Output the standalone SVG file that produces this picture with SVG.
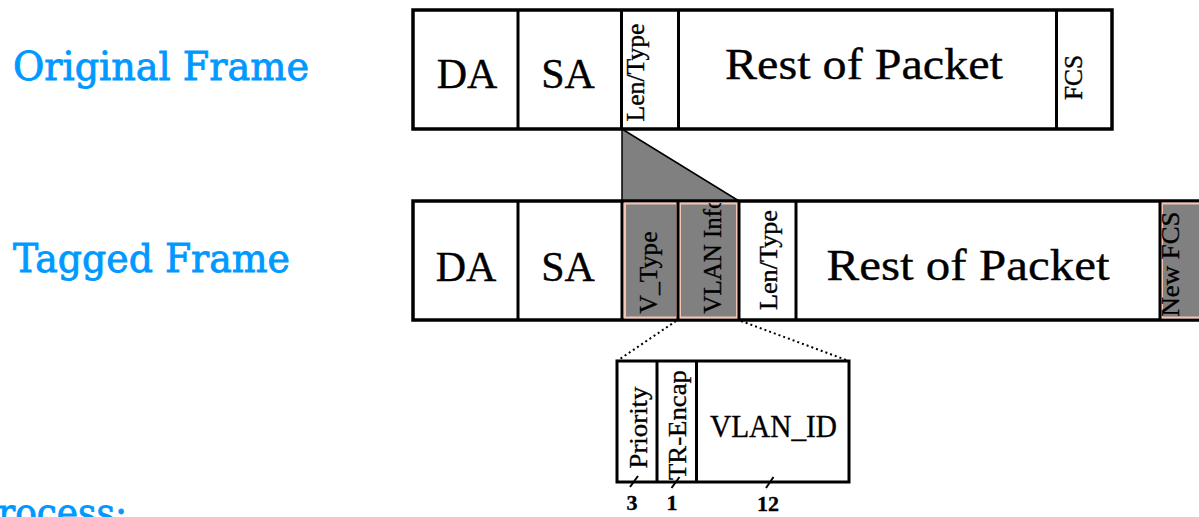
<svg xmlns="http://www.w3.org/2000/svg" width="1199" height="517" viewBox="0 0 1199 517">
  <style>
    .label { font-family: "DejaVu Serif", "Liberation Serif", serif; fill: #0099ff; stroke: #0099ff; stroke-width: 0.9; font-size: 40px; }
    .txt { font-family: "Liberation Serif", "Times New Roman", serif; fill: #000; stroke: #000; stroke-width: 0.35; }
    .big { font-size: 42px; }
    .vert { font-size: 26px; }
    .num { font-size: 22px; font-weight: bold; }
    .box { fill: #fff; stroke: #000; stroke-width: 3.5; }
    .div { stroke: #000; stroke-width: 3; }
    .tag { fill: #808080; stroke: #f5c4b3; stroke-width: 2; }
    .dot { stroke: #000; stroke-width: 2; stroke-dasharray: 2 3; fill: none; }
    .tick { stroke: #000; stroke-width: 2; }
  </style>
  <defs>
    <clipPath id="clipVlan"><rect x="680" y="203" width="57" height="116"/></clipPath>
  </defs>

  <!-- row captions -->
  <g id="caption-original">
    <text class="label" x="13" y="80" textLength="296" lengthAdjust="spacingAndGlyphs">Original Frame</text>
  </g>
  <g id="caption-tagged">
    <text class="label" x="13" y="272" textLength="277" lengthAdjust="spacingAndGlyphs">Tagged Frame</text>
  </g>
  <g id="caption-process">
    <text class="label" x="-2" y="526" textLength="129" lengthAdjust="spacingAndGlyphs">rocess:</text>
  </g>

  <!-- original frame -->
  <g id="original-frame">
    <rect class="box" x="413" y="10" width="699" height="119"/>
    <line class="div" x1="518" y1="10" x2="518" y2="129"/>
    <line class="div" x1="621.5" y1="10" x2="621.5" y2="129"/>
    <line class="div" x1="678.5" y1="10" x2="678.5" y2="129"/>
    <line class="div" x1="1056.5" y1="10" x2="1056.5" y2="129"/>
    <text class="txt big" x="467" y="88" text-anchor="middle">DA</text>
    <text class="txt big" x="568" y="88" text-anchor="middle">SA</text>
    <text class="txt vert" transform="translate(644,121.5) rotate(-90)" textLength="98" lengthAdjust="spacingAndGlyphs">Len/Type</text>
    <text class="txt" font-size="44" x="725" y="78.5" textLength="278" lengthAdjust="spacingAndGlyphs">Rest of Packet</text>
    <text class="txt vert" transform="translate(1082,100) rotate(-90)" textLength="45" lengthAdjust="spacingAndGlyphs">FCS</text>
  </g>

  <!-- inserted tag wedge -->
  <g id="insert-wedge">
    <polygon points="622,129 622,201 739,201" fill="#808080" stroke="#000" stroke-width="1.5" stroke-linejoin="round"/>
  </g>

  <!-- tagged frame -->
  <g id="tagged-frame">
    <rect class="box" x="413" y="201" width="800" height="119"/>
    <rect class="tag" x="625" y="203.5" width="52" height="114"/>
    <rect class="tag" x="680" y="203.5" width="57" height="114"/>
    <rect class="tag" x="1162" y="203.5" width="45" height="114"/>
    <line class="div" x1="518" y1="201" x2="518" y2="320"/>
    <line class="div" x1="622" y1="201" x2="622" y2="320"/>
    <line class="div" x1="678" y1="201" x2="678" y2="320"/>
    <line class="div" x1="739" y1="201" x2="739" y2="320"/>
    <line class="div" x1="796" y1="201" x2="796" y2="320"/>
    <line class="div" x1="1160" y1="201" x2="1160" y2="320"/>
    <text class="txt big" x="466" y="281" text-anchor="middle">DA</text>
    <text class="txt big" x="568" y="281" text-anchor="middle">SA</text>
    <text class="txt vert" transform="translate(657,313.5) rotate(-90)" textLength="82" lengthAdjust="spacingAndGlyphs">V_Type</text>
    <g clip-path="url(#clipVlan)">
      <text class="txt vert" transform="translate(721,313.5) rotate(-90)" textLength="117" lengthAdjust="spacingAndGlyphs">VLAN Info</text>
    </g>
    <text class="txt vert" transform="translate(777,310) rotate(-90)" textLength="100" lengthAdjust="spacingAndGlyphs">Len/Type</text>
    <text class="txt" font-size="44" x="826.5" y="280" textLength="283" lengthAdjust="spacingAndGlyphs">Rest of Packet</text>
    <text class="txt vert" transform="translate(1178.5,316.5) rotate(-90)" textLength="105" lengthAdjust="spacingAndGlyphs">New FCS</text>
  </g>

  <!-- VLAN info breakdown -->
  <g id="vlan-info-fields">
    <rect x="617" y="361" width="232" height="121" fill="#fff" stroke="#000" stroke-width="3"/>
    <line class="div" x1="657" y1="361" x2="657" y2="482"/>
    <line class="div" x1="696.5" y1="361" x2="696.5" y2="482"/>
    <text class="txt vert" transform="translate(647,468.5) rotate(-90)" textLength="82" lengthAdjust="spacingAndGlyphs">Priority</text>
    <text class="txt vert" transform="translate(686,480) rotate(-90)" textLength="110" lengthAdjust="spacingAndGlyphs">TR-Encap</text>
    <text class="txt" font-size="31" x="710" y="436.5" textLength="127" lengthAdjust="spacingAndGlyphs">VLAN_ID</text>
  </g>

  <!-- field widths in bits -->
  <g id="bit-widths">
    <text class="txt num" x="632" y="510" text-anchor="middle">3</text>
    <text class="txt num" x="672" y="510" text-anchor="middle">1</text>
    <text class="txt num" x="768" y="511" text-anchor="middle">12</text>
  </g>

  <!-- connectors: expansion of the VLAN Info field and bit-width ticks -->
  <g id="connectors">
    <line class="dot" x1="676" y1="321" x2="617" y2="361"/>
    <line class="dot" x1="741" y1="321" x2="849" y2="361"/>
    <line class="tick" x1="630" y1="487" x2="638" y2="476"/>
    <line class="tick" x1="671.5" y1="488" x2="679.5" y2="477"/>
    <line class="tick" x1="766" y1="488" x2="773.5" y2="477"/>
  </g>
</svg>
